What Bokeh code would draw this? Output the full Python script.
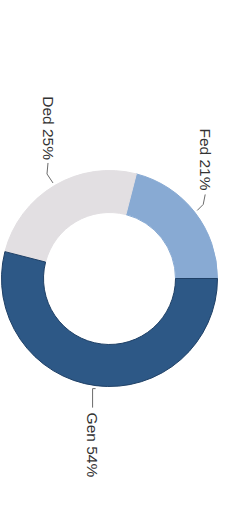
import math
from bokeh.plotting import figure
from bokeh.models import Range1d, ColumnDataSource
from bokeh.core.properties import value
from bokeh.embed import file_html
from bokeh.resources import INLINE

# ---- data ----
categories = ["Fed", "Ded", "Gen"]
shares = [21, 25, 54]
colors = ["#88aad3", "#e2dfe2", "#2d5886"]
edge_colors = ["#88aad3", "#e2dfe2", "#1f4066"]

# ---- layout ----
W, H = 245, 518
CX, CY = 109, 244          # donut centre (data units == pixels, y up)
R_IN, R_OUT = 66, 108

total = sum(shares)
starts, ends, mids = [], [], []
acc = 0.0
for s in shares:
    a0 = acc / total * 2 * math.pi
    acc += s
    a1 = acc / total * 2 * math.pi
    starts.append(a0)
    ends.append(a1)
    mids.append((a0 + a1) / 2)

src = ColumnDataSource(dict(start=starts, end=ends, color=colors,
                            edge=edge_colors))

# data x == screen x, data y == 522 - screen y
p = figure(width=W, height=H, output_backend="svg", toolbar_location=None,
           x_range=Range1d(0, W), y_range=Range1d(522 - H, 522),
           x_axis_type=None, y_axis_type=None, min_border=0,
           outline_line_color=None, background_fill_color="white",
           border_fill_color="white")
p.grid.visible = False

p.annular_wedge(x=CX, y=CY, inner_radius=R_IN, outer_radius=R_OUT,
                start_angle="start", end_angle="end", fill_color="color",
                line_color="edge", line_width=1, source=src)

# leader lines & labels: start at ring edge at each slice's mid angle
lead_r = R_OUT + 3
# per-label layout offsets (pixels) relative to the leader start
elbows = [(6, 6), (-6, 9), (-3, 0)]
ends_off = [(8, 16), (-5, 20), (-3, -19)]
text_off = [(8, 20), (-4, 23), (-3, -24)]
aligns = ["right", "right", "left"]

xs, ys, tx, ty, labels = [], [], [], [], []
for cat, sh, m, el, eo, to in zip(categories, shares, mids, elbows, ends_off, text_off):
    sx = CX + lead_r * math.cos(m)
    sy = CY + lead_r * math.sin(m)
    xs.append([sx, sx + el[0], sx + eo[0]])
    ys.append([sy, sy + el[1], sy + eo[1]])
    tx.append(sx + to[0])
    ty.append(sy + to[1])
    labels.append(f"{cat} {sh}%")

p.multi_line(xs=xs, ys=ys, line_color="#6b6b6b", line_width=1)

lsrc = ColumnDataSource(dict(x=tx, y=ty, text=labels, align=aligns))
p.text(x="x", y="y", text="text", source=lsrc, angle=-math.pi / 2,
       text_align="align", text_baseline="middle",
       text_font=value("Liberation Sans"), text_font_size="15.5px",
       text_color="#333333")

open("out.html", "w").write(file_html(p, INLINE))
